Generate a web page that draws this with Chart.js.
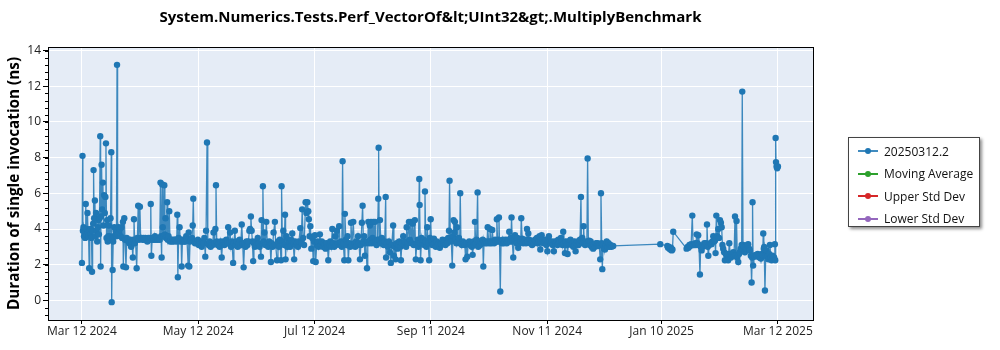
<!DOCTYPE html>
<html>
<head>
<meta charset="utf-8">
<script src="https://cdn.jsdelivr.net/npm/chart.js@4.4.1/dist/chart.umd.min.js"></script>
<style>
  body { margin: 0; background: #fff; }
  #wrap { position: relative; width: 1000px; height: 350px; }
  #legenda {
    position: absolute; left: 848px; top: 137px; width: 132px; height: 90px;
    border: 1px solid #444; background: #fff; box-shadow: 2px 2px 3px rgba(0,0,0,0.45);
    font: 12px "Open Sans", sans-serif; color: #111; box-sizing: border-box; padding-top: 2px;
  }
  .item { display: flex; align-items: center; height: 22.5px; }
  .icone { position: relative; width: 20px; height: 2px; margin: 0 6px 0 9px; }
  .icone span { position: absolute; left: 7px; top: -2px; width: 6px; height: 6px; border-radius: 50%; }
</style>
</head>
<body>
<div id="wrap">
  <canvas id="grafico" width="1000" height="350"></canvas>
  <div id="legenda"></div>
</div>
<script>
// x = days since Mar 12 2024, y = duration (ns)
const tickDays = [0, 61, 122, 183, 244, 304, 365];
const tickLabels = ['Mar 12 2024', 'May 12 2024', 'Jul 12 2024', 'Sep 11 2024', 'Nov 11 2024', 'Jan 10 2025', 'Mar 12 2025'];
const seriesNames = ['20250312.2', 'Moving Average', 'Upper Std Dev', 'Lower Std Dev'];
const seriesColors = ['#1f77b4', '#2ca02c', '#d62728', '#9467bd'];

const runsMarch = [
  [0.0, 2.1], [0.3, 8.1], [0.5, 3.9], [0.8, 4.1], [1.1, 3.6], [1.4, 3.8], [1.7, 3.5], [2.0, 5.4], [2.3, 3.7], [2.6, 4.0],
  [2.9, 4.9], [3.2, 3.8], [3.5, 3.6], [3.8, 1.8], [4.1, 3.9], [4.4, 3.7], [4.7, 4.0], [5.0, 3.5], [5.3, 1.6], [5.6, 3.9],
  [5.9, 4.3], [6.1, 7.3], [6.4, 4.6], [6.8, 5.6], [7.1, 3.6], [7.4, 4.9], [7.7, 3.9], [8.0, 3.3], [8.3, 4.1], [8.6, 4.5],
  [8.9, 3.7], [9.2, 4.6], [9.6, 9.2], [9.8, 1.9], [10.0, 4.7], [10.3, 7.6], [10.6, 5.1], [11.0, 6.6], [11.3, 4.2], [11.6, 5.9],
  [12.0, 4.9], [12.3, 5.8], [12.6, 8.8], [12.9, 3.5], [13.2, 4.5], [13.5, 3.3], [13.8, 3.6], [14.1, 4.2], [14.4, 3.6], [14.7, 3.4],
  [15.0, 4.6], [15.4, 8.3], [15.6, -0.1], [15.9, 3.5], [16.1, 1.7], [16.4, 3.3], [16.7, 3.6], [17.0, 4.1], [17.4, 3.6], [17.7, 3.9],
  [18.1, 3.6], [18.4, 13.2], [18.7, 3.7], [19.1, 4.1], [19.5, 3.8], [19.9, 4.0], [20.3, 3.6], [20.7, 4.1], [21.1, 3.5], [21.5, 4.4],
  [21.7, 1.9], [22.2, 4.6], [22.6, 3.4], [23.1, 1.85], [23.5, 3.5], [24.0, 3.4]
];

const runsAprMay = [
  [24.4, 3.3], [24.9, 3.2], [25.3, 3.4], [25.8, 3.0], [26.2, 3.3], [26.7, 2.4], [27.0, 3.4], [27.3, 4.55], [27.7, 3.2], [28.1, 3.4],
  [28.7, 1.8], [29.1, 3.5], [29.5, 5.3], [29.9, 3.4], [30.4, 5.25], [30.8, 3.5], [31.3, 3.5], [31.8, 3.4], [32.3, 3.5], [32.8, 3.4],
  [33.3, 3.5], [33.8, 3.4], [34.3, 3.3], [34.8, 3.5], [35.3, 3.4], [35.8, 3.5], [36.1, 5.4], [36.4, 2.5], [36.8, 3.4], [37.3, 3.5],
  [37.8, 3.4], [38.3, 3.6], [38.8, 3.4], [39.3, 3.5], [39.8, 3.4], [40.3, 3.5], [40.8, 3.4], [41.2, 6.6], [41.5, 3.6], [41.8, 2.4],
  [42.1, 6.5], [42.4, 4.1], [42.7, 3.6], [43.2, 6.45], [43.5, 3.7], [43.8, 4.6], [44.1, 3.5], [44.7, 5.5], [45.0, 3.4], [45.4, 3.6],
  [45.8, 5.0], [46.2, 3.3], [46.7, 3.4], [47.2, 3.3], [47.7, 3.4], [48.2, 3.3], [48.7, 3.4], [49.2, 3.4], [49.7, 3.3], [50.0, 4.8],
  [50.3, 1.3], [50.7, 3.5], [51.2, 4.1], [51.6, 3.3], [52.0, 3.4], [52.3, 1.9], [52.7, 3.3], [53.2, 3.4], [53.7, 3.3], [54.2, 3.3],
  [54.7, 3.6], [55.1, 3.4], [55.7, 1.95], [56.0, 3.8], [56.3, 1.9], [56.7, 3.3], [57.2, 3.4], [57.7, 3.5], [58.1, 4.2], [58.4, 5.7],
  [58.8, 3.3], [59.3, 3.2], [59.8, 3.3]
];

const runsMayJul = [
  [60.3, 3.2], [60.8, 3.4], [61.3, 3.1], [61.8, 3.3], [62.3, 3.2], [62.8, 3.0], [63.3, 3.3], [63.8, 3.2], [64.2, 3.5], [64.7, 2.45],
  [65.1, 3.9], [65.6, 8.85], [66.0, 3.2], [66.5, 3.1], [67.0, 3.3], [67.5, 3.0], [68.0, 3.2], [68.5, 3.1], [69.0, 3.8], [69.5, 3.2],
  [70.0, 4.0], [70.3, 6.45], [70.7, 3.3], [71.2, 3.1], [71.7, 3.2], [72.2, 3.0], [72.7, 3.3], [73.3, 2.4], [73.7, 3.2], [74.2, 3.3],
  [74.7, 3.1], [75.2, 3.2], [75.7, 3.4], [76.2, 3.2], [76.7, 4.1], [77.2, 3.2], [77.7, 3.8], [78.2, 3.0], [78.7, 3.3], [79.3, 2.1],
  [79.7, 3.2], [80.2, 3.9], [80.7, 3.1], [81.2, 3.3], [81.7, 3.0], [82.2, 3.2], [82.7, 3.4], [83.3, 3.1], [83.8, 4.25], [84.3, 3.2],
  [84.8, 1.85], [85.3, 3.2], [85.8, 3.0], [86.3, 3.3], [86.8, 3.1], [87.3, 3.3], [87.8, 3.9], [88.2, 4.0], [88.6, 4.7], [89.0, 3.9],
  [89.4, 3.3], [89.8, 2.2], [90.2, 3.2], [90.7, 3.0], [91.2, 3.3], [91.7, 3.1], [92.2, 3.5], [92.7, 3.2], [93.2, 3.0], [93.9, 2.45],
  [94.2, 4.5], [94.6, 3.2], [94.9, 6.4], [95.3, 3.3], [95.7, 3.8], [96.2, 3.1], [96.7, 4.4], [97.2, 3.2], [97.7, 3.0], [98.2, 3.3],
  [98.7, 3.1], [99.1, 2.15], [99.5, 3.2], [100.0, 3.0], [100.5, 3.8], [101.2, 4.4], [101.6, 3.1], [102.3, 2.25], [102.8, 3.3], [103.3, 3.0],
  [103.8, 3.4], [104.4, 2.25], [104.7, 6.4], [105.1, 3.3], [105.6, 3.9], [106.1, 3.1], [106.5, 4.8], [106.8, 2.3], [107.2, 3.6], [107.7, 3.0],
  [108.2, 3.4], [108.7, 3.2], [109.2, 3.0], [109.7, 3.4], [110.3, 3.75], [110.8, 3.2], [111.3, 2.3], [111.8, 3.3], [112.3, 3.1], [112.8, 3.2],
  [113.3, 3.0], [113.8, 3.3], [114.5, 4.05], [115.0, 3.2], [115.5, 5.1], [116.0, 3.5], [116.5, 3.1], [117.3, 5.5], [117.7, 4.9], [118.2, 5.5],
  [118.7, 5.0], [119.0, 4.55], [119.4, 3.6], [119.8, 4.15], [120.3, 2.9], [120.8, 3.5], [121.3, 2.2], [121.7, 3.3]
];

const runsJulSep = [
  [122.2, 3.65], [122.6, 2.15], [123.1, 3.1], [123.6, 3.3], [124.1, 3.0], [124.8, 3.7], [125.3, 3.1], [125.8, 3.3], [126.3, 3.0], [126.8, 3.2],
  [127.3, 3.1], [127.8, 2.9], [128.3, 3.2], [128.8, 3.0], [129.2, 2.25], [129.7, 3.1], [130.2, 3.3], [130.7, 3.0], [131.3, 4.0], [131.8, 3.2],
  [132.3, 3.0], [132.8, 3.6], [133.2, 3.1], [133.7, 3.9], [134.2, 3.2], [134.9, 4.15], [135.4, 3.1], [135.9, 3.3], [136.3, 3.0], [136.7, 7.8],
  [137.1, 3.2], [137.6, 2.25], [137.9, 4.85], [138.4, 3.4], [138.9, 3.1], [139.3, 3.6], [139.7, 2.25], [140.2, 3.2], [140.7, 3.0], [141.1, 4.35],
  [141.6, 3.1], [142.3, 4.4], [142.8, 3.2], [143.3, 3.0], [143.8, 3.3], [144.3, 3.1], [144.8, 3.6], [145.3, 3.2], [145.8, 2.3], [146.3, 3.1],
  [146.8, 4.35], [147.2, 5.3], [147.6, 3.3], [148.0, 3.6], [148.4, 2.5], [148.9, 3.2], [149.5, 1.8], [149.9, 3.3], [150.2, 4.4], [150.6, 3.2],
  [151.0, 4.2], [151.3, 3.4], [151.6, 4.4], [152.0, 3.2], [152.4, 3.5], [152.8, 4.4], [153.2, 3.3], [153.7, 4.4], [154.1, 3.3], [154.5, 3.1],
  [155.0, 3.4], [155.4, 5.7], [155.6, 8.55], [155.9, 3.4], [156.3, 4.5], [156.8, 3.2], [157.3, 3.5], [157.8, 3.2], [158.3, 3.1], [158.8, 3.3],
  [159.3, 5.8], [159.5, 2.4], [160.0, 3.2], [160.5, 3.0], [161.0, 3.3], [161.5, 2.7], [162.0, 2.1], [162.5, 3.1], [163.2, 4.2], [163.6, 2.5],
  [164.0, 3.0], [164.5, 2.3], [165.0, 3.2], [165.5, 2.9], [166.0, 3.1], [166.5, 3.3], [167.0, 3.0], [167.3, 2.25], [167.8, 3.2], [168.5, 3.6],
  [169.0, 3.1], [169.5, 3.3], [170.0, 3.0], [170.3, 4.1], [170.8, 3.2], [171.5, 4.4], [172.0, 3.4], [172.5, 4.4], [173.0, 3.2], [173.5, 4.3],
  [174.0, 3.1], [174.6, 4.5], [175.1, 2.3], [175.6, 3.2], [176.1, 3.4], [176.5, 3.0], [176.9, 6.8], [177.1, 5.35], [177.4, 3.2], [177.6, 2.25],
  [178.1, 3.5], [178.6, 3.2], [179.1, 3.4], [179.5, 3.1], [179.9, 6.1], [180.3, 3.3], [180.7, 3.0], [181.1, 4.1], [181.6, 3.2], [182.1, 2.25],
  [182.5, 3.5], [182.9, 4.55], [183.3, 3.3]
];

const runsSepNov = [
  [183.8, 3.1], [184.6, 3.45], [185.1, 3.2], [185.6, 3.0], [186.1, 3.3], [186.6, 3.1], [187.2, 3.2], [187.7, 2.95], [188.2, 3.2], [188.6, 3.15],
  [189.1, 3.4], [189.6, 3.2], [190.1, 3.3], [190.6, 3.1], [191.1, 3.4], [191.6, 3.2], [192.1, 3.5], [192.5, 3.9], [192.8, 6.7], [193.2, 3.5],
  [193.7, 3.3], [194.2, 1.95], [194.6, 3.6], [194.9, 4.5], [195.3, 3.8], [195.6, 4.4], [196.0, 3.4], [196.4, 3.2], [196.7, 4.1], [197.2, 3.3],
  [197.7, 3.5], [198.1, 3.2], [198.4, 6.0], [198.8, 3.2], [199.3, 3.1], [199.8, 3.3], [200.3, 3.2], [200.8, 3.1], [201.2, 2.3], [201.6, 3.2],
  [202.1, 2.45], [202.6, 3.2], [203.1, 3.3], [203.6, 3.1], [204.1, 3.2], [204.5, 3.0], [204.9, 2.55], [205.4, 3.3], [205.7, 3.1], [206.1, 4.4],
  [206.5, 3.2], [207.0, 3.4], [207.5, 6.05], [207.8, 3.0], [208.3, 3.3], [208.8, 3.1], [209.3, 3.3], [209.8, 3.2], [210.2, 3.4], [210.5, 1.9],
  [210.9, 3.3], [211.4, 3.2], [211.9, 3.3], [212.4, 3.2], [212.8, 4.1], [213.3, 3.3], [213.7, 3.2], [214.0, 4.0], [214.4, 3.3], [214.8, 3.2],
  [215.2, 3.95], [215.7, 3.3], [216.2, 3.2], [216.7, 3.4], [217.2, 3.3], [217.6, 4.55], [218.0, 3.3], [218.4, 3.4], [218.7, 4.65], [219.0, 3.3],
  [219.4, 0.5], [219.8, 3.3], [220.3, 3.2], [220.8, 3.4], [221.3, 3.2], [221.8, 3.3], [222.3, 3.4], [222.8, 3.2], [223.3, 3.3], [223.7, 3.4],
  [224.1, 3.85], [224.6, 3.3], [225.0, 3.5], [225.3, 4.65], [225.7, 3.3], [226.2, 2.4], [226.7, 3.4], [227.1, 3.65], [227.6, 3.3], [228.0, 3.2],
  [228.4, 3.5], [228.8, 2.95], [229.3, 3.2], [229.8, 3.4], [230.1, 3.3], [230.4, 4.6], [230.9, 3.45], [231.4, 3.2], [231.9, 3.3], [232.4, 3.4],
  [232.9, 3.2], [233.4, 4.0], [233.8, 3.3], [234.1, 3.75], [234.6, 3.4], [235.1, 3.2], [235.6, 3.3], [236.1, 3.1], [236.6, 3.3], [237.1, 3.2],
  [237.6, 3.4], [238.1, 3.3], [238.6, 3.5], [239.0, 3.2], [239.3, 3.5], [239.7, 3.3], [240.0, 3.6], [240.4, 2.85], [240.7, 3.3], [241.1, 3.65],
  [241.6, 3.4], [242.1, 3.2], [242.6, 3.3], [243.1, 3.4], [243.6, 3.1], [244.1, 2.75], [244.5, 3.3], [244.9, 3.6], [245.4, 3.3]
];

const runsNovDec = [
  [245.9, 3.2], [246.4, 3.3], [246.9, 3.1], [247.5, 2.75], [248.0, 3.3], [248.5, 3.2], [249.0, 3.3], [249.4, 3.1], [249.8, 3.4], [250.2, 3.2],
  [250.7, 3.3], [251.2, 3.5], [251.7, 3.3], [252.0, 3.1], [252.4, 3.85], [252.8, 3.2], [253.3, 2.65], [253.8, 3.3], [254.3, 3.1], [254.7, 2.6],
  [255.2, 3.3], [255.7, 3.2], [256.2, 3.4], [256.7, 3.1], [257.2, 3.2], [257.7, 3.0], [258.2, 3.3], [258.6, 3.1], [258.9, 2.75], [259.4, 3.2],
  [259.9, 3.3], [260.4, 3.1], [260.8, 3.2], [261.2, 3.4], [261.7, 5.8], [262.0, 3.3], [262.4, 3.5], [262.8, 3.2], [263.1, 4.15], [263.5, 3.2],
  [263.9, 3.1], [264.4, 3.3], [264.8, 3.2], [265.2, 7.95], [265.6, 3.2], [266.0, 3.35], [266.4, 3.1], [266.8, 3.3], [267.3, 3.0], [267.7, 3.1],
  [268.1, 2.9], [268.6, 3.1], [269.1, 3.0], [269.6, 3.2], [270.1, 3.1], [270.5, 3.2], [270.8, 3.05], [271.3, 3.1], [271.8, 2.3], [272.2, 6.0],
  [272.6, 3.2], [272.9, 1.75], [273.3, 3.1], [273.8, 2.9], [274.3, 2.85], [274.8, 3.1], [275.2, 3.3], [275.7, 3.0], [276.2, 3.2], [276.7, 3.0],
  [277.2, 3.1], [277.7, 3.0], [278.6, 3.05]
];

const runs2025 = [
  [303.3, 3.15], [307.0, 3.05], [307.4, 2.95], [307.8, 3.0], [308.2, 2.9], [308.6, 2.85], [308.9, 2.95], [309.3, 2.8], [309.7, 2.85], [310.1, 3.85],
  [317.1, 2.9], [317.6, 3.0], [318.1, 2.95], [318.6, 3.1], [319.0, 3.05], [319.5, 3.15], [320.1, 4.75], [320.5, 3.1], [321.1, 3.1], [321.6, 3.2],
  [322.0, 3.1], [322.4, 3.7], [322.8, 3.2], [323.2, 3.65], [323.6, 3.1], [324.1, 1.45], [324.5, 3.0], [325.0, 2.8], [325.5, 3.0], [326.0, 3.1],
  [326.4, 3.2], [326.8, 3.1], [327.3, 3.2], [327.8, 4.25], [328.2, 3.0], [328.5, 2.5], [329.0, 3.1], [329.5, 3.2], [330.2, 3.15], [330.6, 3.3],
  [331.1, 3.6], [331.5, 3.3], [332.0, 3.35], [332.3, 2.65], [332.7, 4.75], [333.1, 3.6], [333.7, 4.0], [334.1, 3.5], [334.6, 4.5], [335.1, 4.35],
  [335.5, 4.1], [335.9, 3.1], [336.3, 2.9], [336.8, 2.7], [337.2, 2.25], [337.7, 2.6], [338.1, 2.5], [338.5, 2.6], [338.9, 2.25], [339.5, 3.2],
  [340.0, 2.6], [340.4, 2.4], [340.8, 2.5], [341.2, 2.6], [341.6, 2.7], [342.0, 2.5], [342.5, 4.7], [342.9, 2.5], [343.3, 4.45], [343.7, 2.4],
  [344.2, 2.15], [344.6, 2.6], [345.0, 2.7], [345.5, 2.9], [346.0, 3.1], [346.3, 11.7], [346.7, 3.1], [347.2, 3.0], [347.7, 2.7], [348.1, 3.0],
  [348.5, 2.9], [349.0, 3.1], [349.4, 3.15], [349.9, 2.9], [350.3, 2.8], [350.8, 2.5], [351.2, 1.0], [351.5, 2.4], [351.7, 5.5], [352.0, 1.95],
  [352.4, 2.5], [352.9, 2.45], [353.4, 2.55], [353.9, 2.5], [354.4, 2.6], [354.9, 2.5], [355.4, 2.4], [355.8, 2.5], [356.1, 2.35], [356.6, 2.6],
  [357.0, 2.5], [357.3, 3.75], [357.6, 2.9], [357.8, 3.0], [358.2, 0.55], [358.6, 2.5], [359.1, 2.8], [359.5, 2.5], [360.0, 2.3], [360.4, 2.6],
  [360.8, 3.1], [361.3, 2.4], [361.7, 2.25], [362.1, 2.5], [362.6, 2.3], [363.0, 2.4], [363.4, 3.15], [363.6, 2.25], [363.8, 9.1], [364.0, 7.75],
  [364.3, 7.5], [364.6, 7.4], [365.0, 7.5]
];

const fonte = '"Open Sans", "Noto Sans", sans-serif';

// fundo azul claro e moldura preta em volta da area do grafico
const molduraPlugin = {
  id: 'moldura',
  beforeDraw(chart) {
    const { ctx, chartArea: a } = chart;
    ctx.save();
    ctx.fillStyle = '#e5ecf6';
    ctx.fillRect(a.left, a.top, a.right - a.left, a.bottom - a.top);
    ctx.restore();
  },
  afterDraw(chart) {
    const { ctx, chartArea: a } = chart;
    const y = chart.scales.y;
    ctx.save();
    ctx.strokeStyle = '#000';
    ctx.lineWidth = 1;
    // minor ticks a cada 0.4
    ctx.beginPath();
    for (let i = -2; i <= 35; i++) {
      const py = Math.round(y.getPixelForValue(i * 0.4)) + 0.5;
      if (py < a.top || py > a.bottom) continue;
      ctx.moveTo(a.left - 3, py);
      ctx.lineTo(a.left, py);
    }
    ctx.stroke();
    ctx.strokeRect(Math.round(a.left) + 0.5, Math.round(a.top) + 0.5, Math.round(a.right - a.left), Math.round(a.bottom - a.top));
    ctx.restore();
  }
};

function montarLegenda(chart) {
  const el = document.getElementById('legenda');
  el.innerHTML = chart.data.datasets.map(ds =>
    `<div class="item"><div class="icone" style="background:${ds.borderColor}"><span style="background:${ds.pointBackgroundColor}"></span></div>${ds.label}</div>`
  ).join('');
}

function gerarGrafico() {
  const pontos = [...runsMarch, ...runsAprMay, ...runsMayJul, ...runsJulSep, ...runsSepNov, ...runsNovDec, ...runs2025]
    .map(([x, y]) => ({ x, y }));

  const datasets = seriesNames.map((nome, i) => ({
    label: nome,
    data: i === 0 ? pontos : [],
    borderColor: i === 0 ? 'rgba(31, 119, 180, 0.85)' : seriesColors[i],
    pointBackgroundColor: seriesColors[i],
    pointBorderWidth: 0,
    pointRadius: 3.2,
    borderWidth: 1.3,
    tension: 0
  }));

  const ctx = document.getElementById('grafico').getContext('2d');
  const chart = new Chart(ctx, {
    type: 'line',
    data: { datasets },
    plugins: [molduraPlugin],
    options: {
      responsive: false,
      animation: false,
      devicePixelRatio: 1,
      layout: { padding: { left: 0, right: 187, top: 0, bottom: 0 } },
      plugins: {
        legend: { display: false },
        tooltip: { enabled: false },
        title: {
          display: true,
          fullSize: false,
          text: 'System.Numerics.Tests.Perf_VectorOf&lt;UInt32&gt;.MultiplyBenchmark',
          color: '#000',
          font: { family: fonte, size: 15, weight: 'bold', lineHeight: 1.2 },
          padding: { top: 9, bottom: 20 }
        }
      },
      scales: {
        x: {
          type: 'linear',
          min: -17.8,
          max: 383.4,
          afterBuildTicks: scale => { scale.ticks = tickDays.map(v => ({ value: v })); },
          afterFit: scale => { scale.height = 30; },
          ticks: {
            autoSkip: false,
            maxRotation: 0,
            padding: 0,
            color: '#222',
            font: { family: fonte, size: 12 },
            callback: value => tickLabels[tickDays.indexOf(value)]
          },
          grid: { color: '#fff', lineWidth: 1, tickColor: '#000', tickLength: 4 },
          border: { display: false }
        },
        y: {
          min: -1.1,
          max: 14.2,
          afterFit: scale => { scale.width = 48; },
          ticks: { stepSize: 2, includeBounds: false, padding: 2, color: '#222', font: { family: fonte, size: 12 } },
          grid: { color: '#fff', lineWidth: 1, tickColor: '#000', tickLength: 5 },
          border: { display: false },
          title: {
            display: true,
            text: 'Duration of single invocation (ns)',
            color: '#000',
            font: { family: fonte, size: 15.3, weight: 'bold', lineHeight: 1.2 },
            padding: { top: 5, bottom: 0 }
          }
        }
      }
    }
  });

  montarLegenda(chart);
}

gerarGrafico();
</script>
</body>
</html>
